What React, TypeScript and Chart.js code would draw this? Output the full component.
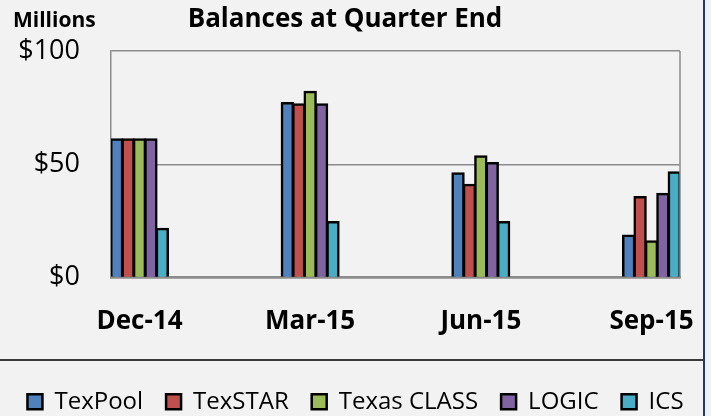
import React, { useEffect, useRef } from "react";
import { Chart, registerables } from "chart.js";

Chart.register(...registerables);

// ---- Data ----
const CATEGORIES = ["Dec-14", "Mar-15", "Jun-15", "Sep-15"];
const SERIES_NAMES = ["TexPool", "TexSTAR", "Texas CLASS", "LOGIC", "ICS"];
const TEXPOOL = [61, 77, 46, 18.5];
const TEXSTAR = [61, 76.5, 41, 35.5];
const TEXAS_CLASS = [61, 82, 53.5, 16];
const LOGIC = [61, 76.5, 50.5, 37];
const ICS = [21.5, 24.5, 24.5, 46.5];
const Y_TICKS = [0, 50, 100];
const TITLE = "Balances at Quarter End";
const UNIT_LABEL = "Millions";

// ---- Styles ----
const FONT = "'Open Sans', sans-serif";
const SERIES_COLORS = ["#4f81bd", "#c0504d", "#9bbb59", "#8064a2", "#4bacc6"];
const GRID = "#8c8c8c";
const GROUP_FRACTION = 0.334;

const decorPlugin = {
  id: "decor",
  afterDraw(chart: any) {
    const { ctx, chartArea } = chart;
    ctx.save();
    ctx.strokeStyle = GRID;
    ctx.lineWidth = 1.5;
    ctx.beginPath();
    ctx.moveTo(chartArea.right, chartArea.top);
    ctx.lineTo(chartArea.right, chartArea.bottom);
    ctx.stroke();

    ctx.strokeStyle = "#3a3a3a";
    ctx.lineWidth = 2;
    ctx.beginPath();
    ctx.moveTo(0, 360);
    ctx.lineTo(704, 360);
    ctx.stroke();

    ctx.fillStyle = "#1f3a78";
    ctx.fillRect(703, 0, 2, 416);

    ctx.fillStyle = "#000";
    ctx.textBaseline = "alphabetic";
    ctx.font = `bold 26px ${FONT}`;
    ctx.textAlign = "center";
    ctx.fillText(TITLE, 345, 27);
    ctx.font = `bold 21px ${FONT}`;
    ctx.textAlign = "left";
    ctx.fillText(UNIT_LABEL, 13, 27);
    ctx.restore();
  },
};

export default function App() {
  const ref = useRef<HTMLCanvasElement>(null);

  useEffect(() => {
    document.body.style.margin = "0";
    const canvas = ref.current!;
    const values = [TEXPOOL, TEXSTAR, TEXAS_CLASS, LOGIC, ICS];
    const half = GROUP_FRACTION / 2;
    const chart = new Chart(canvas, {
      type: "bar",
      data: {
        datasets: values.map((vals, s) => ({
          label: SERIES_NAMES[s],
          data: vals.map((v, i) => ({ x: i, y: v })),
          backgroundColor: SERIES_COLORS[s],
          borderColor: "#000",
          borderWidth: 2.5,
          inflateAmount: 1,
          categoryPercentage: GROUP_FRACTION,
          barPercentage: 1,
        })),
      },
      options: {
        responsive: false,
        animation: false,
        layout: { padding: { top: 51, left: 0, right: 0, bottom: -7.7 } },
        plugins: {
          tooltip: { enabled: false },
          title: { display: false },
          legend: {
            display: true,
            position: "bottom",
            labels: {
              boxWidth: 15,
              boxHeight: 15,
              padding: 23,
              color: "#000",
              font: { family: FONT, size: 24 },
            },
          },
        },
        scales: {
          x: {
            type: "linear",
            offset: false,
            z: 1,
            min: -half,
            max: CATEGORIES.length - 1 + half,
            grid: { display: false, drawTicks: false },
            border: { display: true, color: GRID, width: 2.5 },
            ticks: {
              stepSize: 1,
              includeBounds: false,
              autoSkip: false,
              maxRotation: 0,
              padding: 28.5,
              color: "#000",
              font: { family: FONT, size: 26, weight: "bold" },
              callback: (v: any) => (Number.isInteger(v) ? CATEGORIES[v] ?? "" : ""),
            },
            afterFit: (s: any) => {
              s.height = 89.2;
              s.paddingLeft = 0;
              s.paddingRight = 31;
            },
          },
          y: {
            min: 0,
            max: 100,
            grid: { color: GRID, lineWidth: 1.5, drawTicks: false },
            border: { display: true, color: GRID, width: 1.5 },
            ticks: {
              padding: 31,
              color: "#000",
              font: { family: FONT, size: 27 },
              callback: (v: any) => "$" + v,
            },
            afterBuildTicks: (s: any) => {
              s.ticks = Y_TICKS.map((v) => ({ value: v }));
            },
            afterFit: (s: any) => {
              s.width = 111;
              s.paddingTop = 0;
              s.paddingBottom = 0;
            },
          },
        },
      },
      plugins: [decorPlugin],
    } as any);
    return () => chart.destroy();
  }, []);

  return (
    <div style={{ width: 711, height: 416, background: "#f2f2f2" }}>
      <canvas ref={ref} width={711} height={416} style={{ display: "block" }} />
    </div>
  );
}
